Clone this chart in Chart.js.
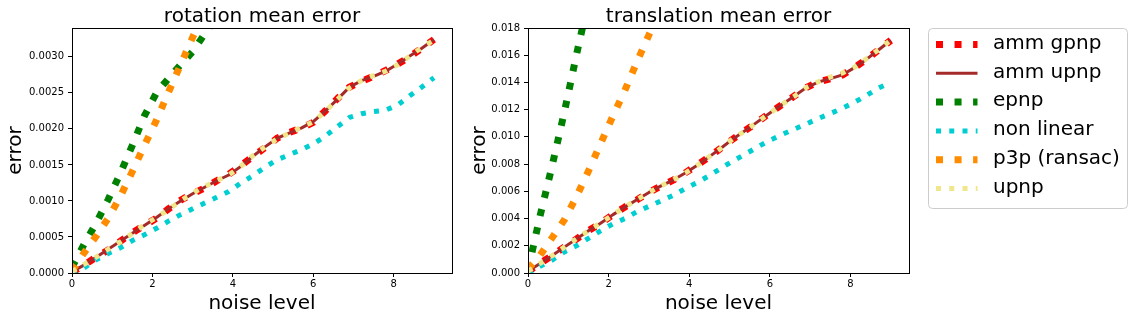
<!DOCTYPE html>
<html>
<head>
<meta charset="utf-8">
<title>pose error vs noise</title>
<script src="https://cdn.jsdelivr.net/npm/chart.js@4.4.0/dist/chart.umd.min.js"></script>
<style>
    body { margin: 0; background: #fff; }
    #wrap { position: relative; width: 1134px; height: 320px; }
    canvas { position: absolute; top: 0; }
    #rotChart { left: 0; }
    #transChart { left: 460px; }
</style>
</head>
<body>
<div id="wrap">
    <canvas id="rotChart" width="460" height="320"></canvas>
    <canvas id="transChart" width="674" height="320"></canvas>
</div>
<script>
// ============================================
// PnP BENCHMARK - ROTATION / TRANSLATION ERROR
// ============================================

// ========== DATA ==========
const noiseLevels = [0, 0.3, 0.6, 0.9, 1.2, 1.5, 1.8, 2.1, 2.4, 2.7, 3.0, 3.3, 3.6, 3.9, 4.2, 4.5,
    4.8, 5.1, 5.4, 5.7, 6.0, 6.3, 6.6, 6.9, 7.2, 7.5, 7.8, 8.1, 8.4, 8.7, 9.0];

const methodNames = ['amm gpnp', 'amm upnp', 'epnp', 'non linear', 'p3p (ransac)', 'upnp'];

const xTicks = [0, 2, 4, 6, 8];
const rotTicks = [0, 0.0005, 0.0010, 0.0015, 0.0020, 0.0025, 0.0030];
const transTicks = [0, 0.002, 0.004, 0.006, 0.008, 0.010, 0.012, 0.014, 0.016, 0.018];

// rotation mean error
const rotAmmGpnp = [0.00001, 0.00011, 0.00022, 0.00032, 0.00044, 0.00056, 0.00066, 0.00076, 0.00089, 0.00101,
    0.00110, 0.00118, 0.00128, 0.00137, 0.00149, 0.00162, 0.00174, 0.00187, 0.00195, 0.00201,
    0.00209, 0.00225, 0.00242, 0.00258, 0.00266, 0.00273, 0.00281, 0.00290, 0.00300, 0.00312, 0.00324];
const rotAmmUpnp = [0.00002, 0.00011, 0.00022, 0.00033, 0.00044, 0.00055, 0.00066, 0.00077, 0.00089, 0.00100,
    0.00110, 0.00119, 0.00128, 0.00136, 0.00148, 0.00162, 0.00175, 0.00187, 0.00194, 0.00201,
    0.00210, 0.00225, 0.00241, 0.00258, 0.00267, 0.00273, 0.00280, 0.00290, 0.00301, 0.00312, 0.00324];
const rotEpnp = [0.00008, 0.00040, 0.00069, 0.00102, 0.00138, 0.00177, 0.00218, 0.00250, 0.00270, 0.00289,
    0.00307, 0.00332, 0.00355, null, null, null, null, null, null, null,
    null, null, null, null, null, null, null, null, null, null, null];
const rotNonLinear = [0.00000, 0.00007, 0.000185, 0.00027, 0.00035, 0.00045, 0.00053, 0.00062, 0.00072, 0.00081,
    0.00089, 0.00097, 0.00105, 0.00113, 0.00125, 0.00135, 0.00147, 0.00157, 0.00164, 0.00171,
    0.00179, 0.00190, 0.00203, 0.00216, 0.00221, 0.00224, 0.00226, 0.00233, 0.00246, 0.00258, 0.00271];
const rotP3p = [0.00003, 0.00028, 0.00051, 0.00076, 0.00106, 0.00141, 0.00177, 0.00212, 0.00251, 0.00289,
    0.00327, 0.00365, null, null, null, null, null, null, null, null,
    null, null, null, null, null, null, null, null, null, null, null];
const rotUpnp = [0.00002, 0.00012, 0.00022, 0.00033, 0.00043, 0.00055, 0.00067, 0.00077, 0.00088, 0.00100,
    0.00111, 0.00120, 0.00128, 0.00136, 0.00148, 0.00163, 0.00175, 0.00186, 0.00194, 0.00202,
    0.00210, 0.00224, 0.00241, 0.00257, 0.00267, 0.00274, 0.00280, 0.00289, 0.00301, 0.00313, 0.00323];

// translation mean error
const transAmmGpnp = [0.00010, 0.00070, 0.00129, 0.00190, 0.00249, 0.00311, 0.00365, 0.00428, 0.00484, 0.00537,
    0.00593, 0.00640, 0.00682, 0.00736, 0.00793, 0.00854, 0.00921, 0.00988, 0.01049, 0.01111,
    0.01176, 0.01237, 0.01299, 0.01361, 0.01404, 0.01427, 0.01455, 0.01510, 0.01570, 0.01641, 0.01709];
const transAmmUpnp = [0.00012, 0.00070, 0.00128, 0.00190, 0.00250, 0.00310, 0.00366, 0.00427, 0.00484, 0.00538,
    0.00592, 0.00640, 0.00683, 0.00735, 0.00792, 0.00855, 0.00920, 0.00989, 0.01048, 0.01112,
    0.01175, 0.01238, 0.01298, 0.01362, 0.01403, 0.01428, 0.01456, 0.01509, 0.01571, 0.01640, 0.01710];
const transEpnp = [0.0002, 0.0042, 0.0079, 0.0118, 0.0160, 0.0200, null, null, null, null,
    null, null, null, null, null, null, null, null, null, null,
    null, null, null, null, null, null, null, null, null, null, null];
const transNonLinear = [0.0000, 0.0005, 0.00095, 0.00155, 0.0020, 0.00255, 0.0031, 0.0036, 0.0040, 0.0045,
    0.0049, 0.0053, 0.0057, 0.0062, 0.00665, 0.00716, 0.00772, 0.00826, 0.00875, 0.00927,
    0.00975, 0.01017, 0.01056, 0.01095, 0.01135, 0.01172, 0.01210, 0.01255, 0.01305, 0.01360, 0.01400];
const transP3p = [0.0003, 0.0013, 0.0026, 0.0039, 0.0056, 0.0075, 0.0095, 0.0115, 0.0134, 0.0155,
    0.0175, 0.0195, null, null, null, null, null, null, null, null,
    null, null, null, null, null, null, null, null, null, null, null];
const transUpnp = [0.00013, 0.00071, 0.00127, 0.00190, 0.00251, 0.00310, 0.00367, 0.00426, 0.00485, 0.00539,
    0.00591, 0.00641, 0.00684, 0.00734, 0.00791, 0.00856, 0.00919, 0.00990, 0.01047, 0.01113,
    0.01174, 0.01239, 0.01297, 0.01363, 0.01405, 0.01440, 0.01470, 0.01512, 0.01575, 0.01642, 0.01711];

// ========== STYLES ==========
const lineStyles = [
    { color: '#ff0000', width: 7, dash: [7, 11.55] },
    { color: '#a52a2a', width: 3, dash: [] },
    { color: '#008000', width: 7, dash: [7, 11.55] },
    { color: '#00ced1', width: 5, dash: [5, 8.25] },
    { color: '#ff8c00', width: 7, dash: [7, 11.55] },
    { color: '#f0e68c', width: 5, dash: [5, 8.25] }
];

Chart.defaults.font.family = '"DejaVu Sans", sans-serif';
Chart.defaults.color = '#000';

// ========== PLUGINS ==========
// matplotlib style box round the plot area
const axesFrame = {
    id: 'axesFrame',
    afterDatasetsDraw(chart) {
        const { ctx, chartArea: a } = chart;
        const l = Math.round(a.left), t = Math.round(a.top);
        ctx.save();
        ctx.setLineDash([]);
        ctx.strokeStyle = '#000';
        ctx.lineWidth = 1;
        ctx.strokeRect(l + 0.5, t + 0.5, Math.round(a.right) - l, Math.round(a.bottom) - t);
        ctx.restore();
    }
};

// legend drawn outside the right plot
const sideLegend = {
    id: 'sideLegend',
    afterDraw(chart) {
        const ctx = chart.ctx;
        const bx = Math.round(chart.chartArea.right) + 19.5;
        const by = 28.5;
        ctx.save();
        ctx.beginPath();
        ctx.roundRect(bx, by, 199, 180, 4);
        ctx.fillStyle = 'rgba(255, 255, 255, 0.8)';
        ctx.fill();
        ctx.strokeStyle = '#cccccc';
        ctx.lineWidth = 1;
        ctx.stroke();

        chart.data.datasets.forEach((ds, i) => {
            const y = 44.5 + i * 28.8;
            ctx.beginPath();
            ctx.setLineDash(ds.borderDash);
            ctx.lineCap = 'butt';
            ctx.lineWidth = ds.borderWidth;
            ctx.strokeStyle = ds.borderColor;
            ctx.moveTo(bx + 7.5, y);
            ctx.lineTo(bx + 49, y);
            ctx.stroke();

            ctx.setLineDash([]);
            ctx.fillStyle = '#000';
            ctx.font = '20px "DejaVu Sans"';
            ctx.textBaseline = 'middle';
            ctx.textAlign = 'left';
            ctx.fillText(ds.label, bx + 64.5, y - 1);
        });
        ctx.restore();
    }
};

// ========== BUILD ==========
function makeDatasets(series) {
    return series.map((values, i) => ({
        label: methodNames[i],
        data: noiseLevels.map((x, j) => ({ x: x, y: values[j] })),
        borderColor: lineStyles[i].color,
        borderWidth: lineStyles[i].width,
        borderDash: lineStyles[i].dash,
        borderCapStyle: 'butt',
        borderJoinStyle: 'round',
        pointRadius: 0,
        pointHoverRadius: 0,
        tension: 0,
        fill: false,
        spanGaps: false,
        clip: 0,
        order: series.length - 1 - i
    }));
}

function buildChart(canvasId, opts) {
    const tickGrid = { drawOnChartArea: false, drawTicks: true, tickLength: 4, color: '#000', lineWidth: 1 };
    return new Chart(document.getElementById(canvasId), {
        type: 'line',
        data: { datasets: makeDatasets(opts.series) },
        options: {
            responsive: false,
            animation: false,
            devicePixelRatio: 1,
            layout: { padding: { left: 0, top: 0, right: opts.padRight, bottom: 0 } },
            plugins: {
                legend: { display: false },
                tooltip: { enabled: false },
                title: {
                    display: true,
                    text: opts.title,
                    fullSize: false,
                    color: '#000',
                    font: { size: 20, weight: 'normal', lineHeight: 1.1 },
                    padding: { top: 6, bottom: 0 }
                }
            },
            scales: {
                x: {
                    type: 'linear',
                    min: 0,
                    max: 9.45,
                    afterBuildTicks: function(scale) {
                        scale.ticks = xTicks.map(v => ({ value: v }));
                    },
                    afterFit: function(scale) {
                        scale.height = 47;
                    },
                    grid: tickGrid,
                    border: { display: false },
                    ticks: {
                        font: { size: 10 },
                        padding: 1,
                        maxRotation: 0,
                        callback: v => String(v)
                    },
                    title: {
                        display: true,
                        text: 'noise level',
                        font: { size: 20 },
                        padding: { top: 0, bottom: 4 }
                    }
                },
                y: {
                    type: 'linear',
                    min: 0,
                    max: opts.yMax,
                    afterBuildTicks: function(scale) {
                        scale.ticks = opts.yTicks.map(v => ({ value: v }));
                    },
                    afterFit: function(scale) {
                        scale.width = opts.yWidth;
                    },
                    grid: tickGrid,
                    border: { display: false },
                    ticks: {
                        font: { size: 10 },
                        padding: 4,
                        callback: v => v.toFixed(opts.yDigits)
                    },
                    title: {
                        display: true,
                        text: 'error',
                        font: { size: 20 },
                        padding: { top: opts.yTitlePad, bottom: 0 }
                    }
                }
            }
        },
        plugins: [axesFrame].concat(opts.extraPlugins || [])
    });
}

buildChart('rotChart', {
    title: 'rotation mean error',
    series: [rotAmmGpnp, rotAmmUpnp, rotEpnp, rotNonLinear, rotP3p, rotUpnp],
    yMax: 0.0034,
    yTicks: rotTicks,
    yDigits: 4,
    yWidth: 72,
    yTitlePad: 4,
    padRight: 8
});

buildChart('transChart', {
    title: 'translation mean error',
    series: [transAmmGpnp, transAmmUpnp, transEpnp, transNonLinear, transP3p, transUpnp],
    yMax: 0.018,
    yTicks: transTicks,
    yDigits: 3,
    yWidth: 68,
    yTitlePad: 8,
    padRight: 225,
    extraPlugins: [sideLegend]
});
</script>
</body>
</html>
